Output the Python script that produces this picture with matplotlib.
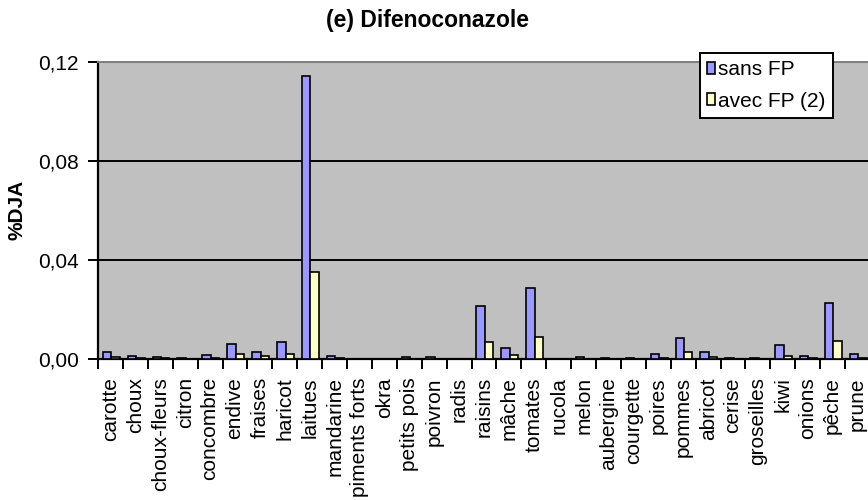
import numpy as np
import matplotlib
matplotlib.use("Agg")
import matplotlib.pyplot as plt
from matplotlib.ticker import FuncFormatter

plt.rcParams['font.family'] = ['Liberation Sans', 'DejaVu Sans']

# categories and values (%DJA)
aliments = ["carotte", "choux", "choux-fleurs", "citron", "concombre", "endive",
            "fraises", "haricot", "laitues", "mandarine", "piments forts", "okra",
            "petits pois", "poivron", "radis", "raisins", "mâche", "tomates",
            "rucola", "melon", "aubergine", "courgette", "poires", "pommes",
            "abricot", "cerise", "groseilles", "kiwi", "onions", "pêche", "prune"]
sans_fp = [0.0028, 0.0013, 0.0010, 0.0003, 0.0017, 0.0059, 0.0028, 0.0067,
           0.1145, 0.0012, 0.0000, 0.0000, 0.0008, 0.0008, 0.0000, 0.0214,
           0.0043, 0.0287, 0.0000, 0.0007, 0.0003, 0.0003, 0.0019, 0.0084,
           0.0028, 0.0004, 0.0003, 0.0055, 0.0014, 0.0226, 0.0019]
avec_fp = [0.0007, 0.0004, 0.0003, 0.0001, 0.0006, 0.0019, 0.0011, 0.0019,
           0.0353, 0.0003, 0.0000, 0.0000, 0.0002, 0.0002, 0.0000, 0.0067,
           0.0015, 0.0087, 0.0000, 0.0002, 0.0001, 0.0002, 0.0006, 0.0027,
           0.0008, 0.0001, 0.0001, 0.0011, 0.0003, 0.0071, 0.0006]
yticks = [0.0, 0.04, 0.08, 0.12]

fig = plt.figure(figsize=(8.68, 5.0), dpi=100)
# plot area runs past the right edge of the picture, like the original
ax = fig.add_axes([98/868, 1-359/500, 772/868, 297/500])

x = np.arange(len(aliments))
w = 0.34
ax.set_facecolor("#C0C0C0")
ax.bar(x - 0.14, sans_fp, w, color="#9999FF", edgecolor="black", linewidth=1.2, label="sans FP", zorder=3)
ax.bar(x + 0.20, avec_fp, w, color="#FFFFCC", edgecolor="black", linewidth=1.2, label="avec FP (2)", zorder=3)

ax.set_xlim(-0.5, len(aliments) - 0.5)
ax.set_ylim(0, 0.12)
ax.set_yticks(yticks)
ax.yaxis.set_major_formatter(FuncFormatter(lambda v, p: f"{v:.2f}".replace(".", ",")))
ax.grid(axis="y", color="black", linewidth=1.4, zorder=1)

# labels centred on categories, tick marks between them
ax.set_xticks(x)
ax.set_xticklabels(aliments, rotation=90)
ax.set_xticks(np.arange(-0.5, len(aliments)), minor=True)
ax.tick_params(axis="x", which="major", length=0, labelsize=15, pad=13)
ax.tick_params(axis="x", which="minor", length=7, width=1.4)
ax.tick_params(axis="y", length=7, width=1.4, labelsize=15, pad=7)

for s in ["top", "right"]:
    ax.spines[s].set_color("#808080")
    ax.spines[s].set_linewidth(1.4)
ax.spines["left"].set_linewidth(1.6)
ax.spines["bottom"].set_linewidth(1.6)

fig.text(17/868, 1-210/500, "%DJA", rotation=90, ha="center", va="center",
         fontweight="bold", fontsize=15)
fig.text(428/868, 1-21/500, "(e) Difenoconazole", ha="center", va="center",
         fontweight="bold", fontsize=16.5)

leg = ax.legend(loc="upper right", bbox_to_anchor=(833/868, 1-53/500), bbox_transform=fig.transFigure,
                fontsize=15, frameon=True, fancybox=False, edgecolor="black",
                handlelength=0.4, handleheight=0.5, handletextpad=0.15, borderpad=0.35,
                labelspacing=0.6, borderaxespad=0)
leg.get_frame().set_linewidth(1.4)
leg.get_frame().set_facecolor("white")
leg.get_frame().set_alpha(1)
leg.set_zorder(5)

fig.savefig("out.png", dpi=100)
